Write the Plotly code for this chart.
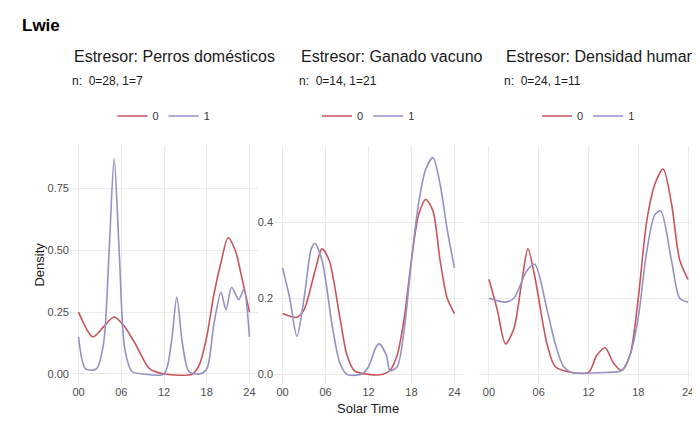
import plotly.graph_objects as go

titles = ["Estresor: Perros domésticos", "Estresor: Ganado vacuno", "Estresor: Densidad humana"]
ns = ["n:  0=28, 1=7", "n:  0=14, 1=21", "n:  0=24, 1=11"]

x1r = [0,2,3.5,5,6.5,8,10,12,16,17,18,19,20,21,22,23,24]
y1r = [0.25,0.15,0.19,0.23,0.19,0.12,0.02,0,0,0.04,0.15,0.32,0.45,0.55,0.5,0.38,0.25]
x1b = [0,1,2.5,3.5,4.3,5,5.7,6.5,7.5,9,12,13,13.8,14.6,15.5,17,18,19,20,20.7,21.5,22.5,23.2,24]
y1b = [0.15,0.02,0.02,0.12,0.5,0.87,0.5,0.1,0.01,0,0,0.12,0.31,0.12,0.01,0,0.02,0.2,0.33,0.26,0.35,0.3,0.34,0.15]
x2r = [0,2,3,4.5,5.5,6.5,8,9,10,12,14,15,16,17,18,19,20,21,22,23,24]
y2r = [0.16,0.15,0.17,0.27,0.33,0.3,0.15,0.05,0.01,0,0,0.01,0.05,0.15,0.3,0.42,0.46,0.43,0.3,0.2,0.16]
x2b = [0,1,2,3,4,4.5,5.5,7,8,9,11,12,13,13.5,14.5,15,16,17,18,19,20,21,22,23,24]
y2b = [0.28,0.2,0.1,0.2,0.33,0.345,0.3,0.12,0.03,0,0,0.02,0.07,0.08,0.05,0.01,0.02,0.12,0.3,0.45,0.54,0.57,0.5,0.38,0.28]
x3r = [0,1,2,3,4,4.7,5.5,7,8,10,12,13,14,15,16,17,18,19,20,21,22,23,24]
y3r = [0.25,0.17,0.08,0.12,0.25,0.33,0.26,0.08,0.02,0.005,0.005,0.05,0.07,0.03,0.01,0.05,0.2,0.4,0.5,0.54,0.45,0.3,0.25]
x3b = [0,2,3,4.5,5.5,7,8,9,10,14,16,17,18,19,20,20.7,22,23,24]
y3b = [0.2,0.19,0.2,0.27,0.29,0.17,0.08,0.02,0.005,0.005,0.01,0.05,0.15,0.32,0.42,0.43,0.3,0.2,0.19]
ticks = [0, 6, 12, 18, 24]
tick_labels = ["00", "06", "12", "18", "24"]

RED, BLUE = "#c9555b", "#9391c6"
data = [(x1r, y1r, x1b, y1b), (x2r, y2r, x2b, y2b), (x3r, y3r, x3b, y3b)]
doms = [(62/700, 250/700), (266/700, 455/700), (471/700, 690/700)]
title_x = [64, 291, 496]
ydom = [0.13, 0.68]

fig = go.Figure()
for i, (xr, yr, xb, yb) in enumerate(data):
    s = "" if i == 0 else str(i + 1)
    lg = "legend" + s
    fig.add_trace(go.Scatter(x=xr, y=yr, mode="lines", line=dict(color=RED, width=1.6, shape="spline", smoothing=0.8),
                             name="0", xaxis="x" + s, yaxis="y" + s, legend=lg))
    fig.add_trace(go.Scatter(x=xb, y=yb, mode="lines", line=dict(color=BLUE, width=1.6, shape="spline", smoothing=0.8),
                             name="1", xaxis="x" + s, yaxis="y" + s, legend=lg))
    cx = (doms[i][0] + doms[i][1]) / 2
    fig.update_layout(**{
        "xaxis" + s: dict(domain=list(doms[i]), range=[-1.2, 25.2], tickvals=ticks, ticktext=tick_labels,
                          showgrid=True, gridcolor="#ebebeb", zeroline=False, tickfont=dict(size=11, color="#4d4d4d"),
                          anchor="y" + s, ticklen=0),
        "yaxis" + s: dict(domain=ydom, anchor="x" + s, showgrid=True, gridcolor="#ebebeb", zeroline=False,
                          tickfont=dict(size=11, color="#4d4d4d"), ticklen=0,
                          **({"tickvals": [0, 0.25, 0.5, 0.75], "ticktext": ["0.00", "0.25", "0.50", "0.75"], "range": [-0.04, 0.92]} if i == 0 else
                             {"tickvals": [0, 0.2, 0.4], "ticktext": ["0.0", "0.2", "0.4"], "range": [-0.025, 0.6]} if i == 1 else
                             {"tickvals": [0, 0.2, 0.4], "showticklabels": False, "range": [-0.025, 0.6]})),
        lg: dict(orientation="h", x=cx, xanchor="center", y=1 - 108/432, yanchor="middle", font=dict(size=11, color="#333"),
                 bgcolor="rgba(0,0,0,0)"),
    })
    fig.add_annotation(text=titles[i], x=title_x[i]/700, y=1 - 48/432, xref="paper", yref="paper", xanchor="left",
                       yanchor="middle", showarrow=False, font=dict(size=16, color="#1a1a1a"))
    fig.add_annotation(text=ns[i], x=title_x[i]/700 - 2/700, y=1 - 73/432, xref="paper", yref="paper", xanchor="left",
                       yanchor="middle", showarrow=False, font=dict(size=12, color="#1a1a1a"))

fig.add_annotation(text="<b>Lwie</b>", x=12/700, y=1 - 18/432, xref="paper", yref="paper", xanchor="left",
                   yanchor="middle", showarrow=False, font=dict(size=17, color="#000"))
fig.add_annotation(text="Density", x=22/700, y=(ydom[0] + ydom[1]) / 2, xref="paper", yref="paper", textangle=-90,
                   showarrow=False, font=dict(size=13, color="#1a1a1a"))
fig.add_annotation(text="Solar Time", x=360/700, y=1 - 410/432, xref="paper", yref="paper",
                   showarrow=False, font=dict(size=13, color="#1a1a1a"))
fig.update_layout(width=700, height=432, margin=dict(l=0, r=0, t=0, b=0), plot_bgcolor="white", paper_bgcolor="white",
                  font=dict(family="Liberation Sans, Arial, sans-serif"))
fig.write_html("out.html")
